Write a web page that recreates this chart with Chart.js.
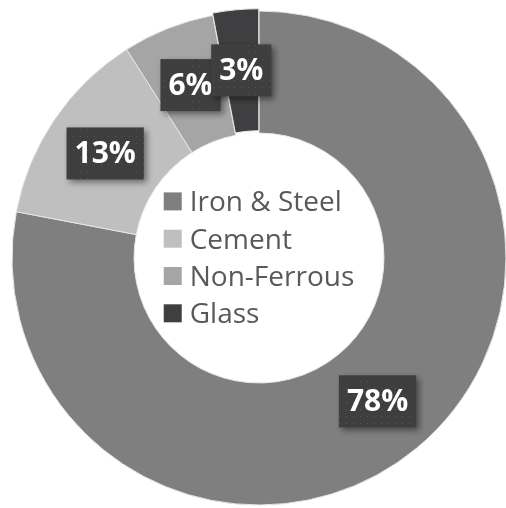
<!DOCTYPE html>
<html>
<head>
<meta charset="utf-8">
<script src="https://cdn.jsdelivr.net/npm/chart.js@4.4.1/dist/chart.umd.min.js"></script>
<style>
  html, body { margin: 0; padding: 0; background: #ffffff; }
  #wrap { width: 506px; height: 508px; }
</style>
</head>
<body>
<div id="wrap"><canvas id="myChart" width="506" height="508"></canvas></div>
<script>
// chart data
var categories = ['Iron & Steel', 'Cement', 'Non-Ferrous', 'Glass'];
var shares = [78, 13, 6, 3];
var sliceColors = ['#7f7f7f', '#bfbfbf', '#a5a5a5', '#3f3f41'];

// dotted fill for the label boxes
var dots = document.createElement('canvas');
dots.width = 7; dots.height = 7;
var dctx = dots.getContext('2d');
dctx.fillStyle = '#3e3e3e';
dctx.fillRect(0, 0, 7, 7);
dctx.fillStyle = '#555555';
dctx.fillRect(3, 3, 1, 1);

// value labels in dark boxes
var boxLabels = {
	id: 'boxLabels',
	afterDatasetsDraw: function(chart) {
		var ctx = chart.ctx;
		var meta = chart.getDatasetMeta(0);
		var pattern = ctx.createPattern(dots, 'repeat');
		ctx.save();
		ctx.font = 'bold 30px "Open Sans"';
		ctx.textAlign = 'center';
		ctx.textBaseline = 'middle';
		meta.data.forEach(function(arc, i) {
			var pos = arc.tooltipPosition();
			var txt = chart.data.datasets[0].data[i] + '%';
			var w = ctx.measureText(txt).width + 16;
			var h = 52;
			ctx.save();
			ctx.shadowColor = 'rgba(0,0,0,0.45)';
			ctx.shadowBlur = 6;
			ctx.shadowOffsetX = 3;
			ctx.shadowOffsetY = 3;
			ctx.fillStyle = pattern;
			ctx.fillRect(pos.x - w / 2, pos.y - h / 2, w, h);
			ctx.restore();
			ctx.fillStyle = '#ffffff';
			ctx.fillText(txt, pos.x, pos.y + 1);
		});
		ctx.restore();
	}
};

// legend drawn in the hole
var centerLegend = {
	id: 'centerLegend',
	afterDraw: function(chart) {
		var ctx = chart.ctx;
		var meta = chart.getDatasetMeta(0);
		var arc = meta.data[0];
		var cx = arc.x, cy = arc.y;
		var labels = chart.data.labels;
		var colors = chart.data.datasets[0].backgroundColor;
		var rowH = 37.3;
		ctx.save();
		ctx.font = '28px "Open Sans"';
		ctx.textBaseline = 'alphabetic';
		var maxW = 0;
		labels.forEach(function(l) { maxW = Math.max(maxW, ctx.measureText(l).width); });
		var blockW = 18 + 8 + maxW;
		var x0 = cx - blockW / 2;
		var top = cy - rowH * labels.length / 2;
		labels.forEach(function(l, i) {
			var base = top + rowH * i + 28;
			ctx.fillStyle = colors[i];
			ctx.fillRect(x0, base - 19, 18, 18);
			ctx.fillStyle = '#595959';
			ctx.fillText(l, x0 + 26, base);
		});
		ctx.restore();
	}
};

var ctx = document.getElementById('myChart').getContext('2d');
var myChart = new Chart(ctx, {
	type: 'doughnut',
	data: {
		labels: categories,
		datasets: [
			{
				data: shares,
				backgroundColor: sliceColors,
				borderColor: '#e6e6e6',
				borderWidth: 1,
				offset: [0, 0, 0, 5]
			}
		]
	},
	options: {
		responsive: false,
		animation: false,
		radius: 247,
		cutout: '50.6%',
		layout: { padding: { left: 12, right: 0, top: 11, bottom: 3 } },
		plugins: {
			legend: { display: false },
			tooltip: { enabled: false }
		}
	},
	plugins: [boxLabels, centerLegend]
});
</script>
</body>
</html>
